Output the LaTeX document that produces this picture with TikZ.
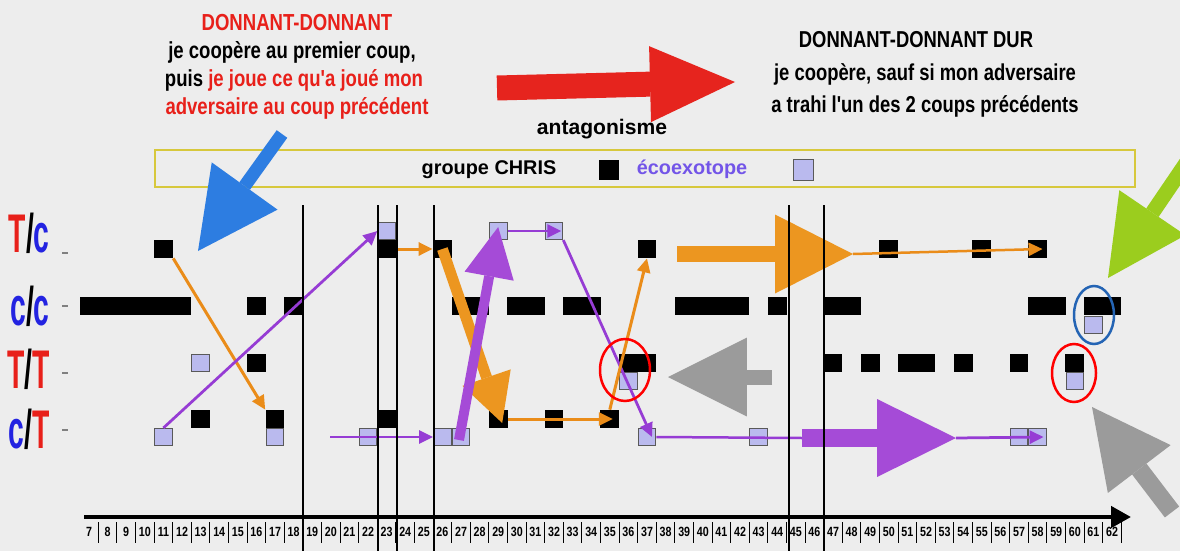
\documentclass[tikz,border=0pt]{standalone}
\usepackage{fontspec}
\setmainfont{Liberation Sans}
\newfontfamily\narrowfont{Liberation Sans}[FakeStretch=0.8]
\newfontfamily\labelfont{Liberation Sans}[FakeStretch=0.52]
\usetikzlibrary{arrows.meta,calc}

\definecolor{bggray}{RGB}{237,237,237}
\definecolor{ddred}{RGB}{232,32,26}
\definecolor{ddblue}{RGB}{35,35,225}
\definecolor{lavsq}{RGB}{186,186,238}
\definecolor{orangeT}{RGB}{234,140,25}
\definecolor{purpleT}{RGB}{150,60,212}
\definecolor{orangeA}{RGB}{236,150,32}
\definecolor{purpleA}{RGB}{165,75,215}
\definecolor{blueA}{RGB}{45,125,225}
\definecolor{redA}{RGB}{230,36,30}
\definecolor{greenA}{RGB}{155,205,30}
\definecolor{grayA}{RGB}{155,155,155}
\definecolor{legyellow}{RGB}{215,200,60}
\definecolor{ecopurple}{RGB}{115,85,232}

\begin{document}
\begin{tikzpicture}[x=0.02cm,y=-0.02cm,
    blk/.style={fill=black,inner sep=0pt,minimum width=0.378cm,minimum height=0.36cm},
    lav/.style={fill=lavsq,draw=black!65,line width=0.5pt,inner sep=0pt,minimum width=0.355cm,minimum height=0.345cm},
    thinor/.style={orangeT,line width=0.06cm,-{Triangle[length=0.28cm,width=0.26cm]}},
    thinpu/.style={purpleT,line width=0.055cm,-{Triangle[length=0.28cm,width=0.26cm]}},
    bigarr/.style n args={3}{line width=#1,-{Triangle[length=#2,width=#3,line width=0pt]}},
    ddtext/.style={inner sep=0pt,font=\narrowfont\bfseries\fontsize{13.2}{15}\selectfont},
    hardtext/.style={inner sep=0pt,font=\narrowfont\bfseries\fontsize{13.1}{15}\selectfont},
    legtext/.style={inner sep=0pt,font=\bfseries\fontsize{11.3}{13}\selectfont},
    rowlab/.style={inner sep=0pt,anchor=base east,font=\labelfont\bfseries\fontsize{31}{33}\selectfont},
    num/.style={inner sep=0pt,font=\narrowfont\bfseries\fontsize{7.6}{8}\selectfont}]
\useasboundingbox (0,0) rectangle (1180,551);
\clip (0,0) rectangle (1180,551);
\fill[bggray] (0,0) rectangle (1180,551);

% legend
\node[draw=legyellow,line width=0.04cm,minimum width=19.6cm,minimum height=0.74cm,inner sep=0pt] (legend) at (645,168.5) {};
\node[legtext,anchor=base] (chris) at (489,174) {groupe CHRIS};
\node[blk,minimum width=0.4cm,minimum height=0.42cm] (key-b) at (609,170) {};
\node[legtext,anchor=base,text=ecopurple] (eco) at (692,174) {écoexotope};
\node[lav,minimum width=0.4cm,minimum height=0.42cm] (key-l) at (803,170) {};
\node[legtext,anchor=base,font=\bfseries\fontsize{12}{13}\selectfont] (antag) at (602,134) {antagonisme};

% row labels
\node[rowlab] (lab-tc) at (50,252) {\textcolor{ddred}{T}/\textcolor{ddblue}{c}};
\node[rowlab] (lab-cc) at (50,325) {\textcolor{ddblue}{c}/\textcolor{ddblue}{c}};
\node[rowlab] (lab-tt) at (50,388) {\textcolor{ddred}{T}/\textcolor{ddred}{T}};
\node[rowlab] (lab-ct) at (50,448) {\textcolor{ddblue}{c}/\textcolor{ddred}{T}};
\foreach \ty in {253,306,373,430}
  \draw[gray,line width=0.7pt] (62,\ty) -- (68,\ty);

% moves
\foreach \m in {11,23,26,37,50,55,58} \node[blk] (tc-b\m) at ({89+(\m-7)*18.6},249) {};
\foreach \m in {23,29,32} \node[lav] (tc-l\m) at ({89+(\m-7)*18.6},231) {};
\foreach \m in {7,8,9,10,11,12,16,18,27,28,30,31,33,34,39,40,41,42,44,47,48,58,59,61,62}
  \node[blk] (cc-b\m) at ({89+(\m-7)*18.6},306) {};
\node[lav] (cc-l61) at ({89+(61-7)*18.6},325) {};
\foreach \m in {16,36,37,47,49,51,52,54,57,60} \node[blk] (tt-b\m) at ({89+(\m-7)*18.6},363) {};
\node[lav] (tt-l13) at ({89+(13-7)*18.6},363) {};
\foreach \m in {36,60} \node[lav] (tt-l\m) at ({89+(\m-7)*18.6},381) {};
\foreach \m in {13,17,23,29,32,35} \node[blk] (ct-b\m) at ({89+(\m-7)*18.6},419) {};
\foreach \m in {11,17,22,26,27,37,43,57,58} \node[lav] (ct-l\m) at ({89+(\m-7)*18.6},437) {};

% thin arrows
\coordinate (p-start) at (330,437);
\draw[thinor] (tc-b11.south east) -- (ct-b17.north west);
\draw[thinpu] (ct-l11.north) -- (tc-l23.west);
\draw[thinor] (tc-b23.east) -- (tc-b26.west);
\draw[thinpu] (p-start) -- (ct-l26.west);
\draw[thinpu] (tc-l29.east) -- ($(tc-l32.east)+(-2,0)$);
\draw[thinpu] (tc-l32.south east) -- ($(ct-l37.center)+(5,0)$);
\draw[thinor] (ct-b29.east) -- ($(ct-b35.center)+(3,0)$);
\draw[thinor] (ct-b35.north) -- (tc-b37.south);

% big arrows
\coordinate (o-tail) at (677,254);
\coordinate (o-tip) at (853,254);
\coordinate (v-tail) at (802,438);
\coordinate (v-tip) at (956,438);
\draw[orangeT,line width=0.05cm,-{Triangle[length=0.28cm,width=0.26cm]}] (o-tip) -- ($(tc-b58.center)+(5,0)$);
\draw[purpleT,line width=0.05cm] (ct-l37.east) -- (v-tail);
\draw[thinpu] (v-tip) -- ($(ct-l58.center)+(6,0)$);
\draw[bigarr={0.32cm}{1.56cm}{1.58cm},orangeA] (o-tail) -- (o-tip);
\draw[bigarr={0.36cm}{1.58cm}{1.56cm},purpleA] (v-tail) -- (v-tip);
\draw[bigarr={0.22cm}{0.96cm}{1.02cm},orangeA] (tc-b26.center) -- ($(ct-b29.center)+(4,4)$);
\draw[bigarr={0.2cm}{1.0cm}{1.0cm},purpleA] ($(ct-l27.center)+(-2,3)$) -- ($(tc-l29.center)+(0,-4)$);

\coordinate (blue-tail) at (282,134);
\coordinate (blue-tip) at (198,251);
\draw[bigarr={0.26cm}{1.6cm}{1.62cm},blueA] (blue-tail) -- (blue-tip);
\coordinate (red-tail) at (497,88);
\coordinate (red-tip) at (735,82);
\draw[bigarr={0.5cm}{1.7cm}{1.52cm},redA] (red-tail) -- (red-tip);
\coordinate (green-tail) at (1195,150);
\coordinate (green-tip) at (1108,278);
\draw[bigarr={0.3cm}{1.58cm}{1.6cm},greenA] (green-tail) -- (green-tip);
\coordinate (grey-tail) at (772,377);
\coordinate (grey-tip) at (668,377);
\draw[bigarr={0.3cm}{1.58cm}{1.58cm},grayA] (grey-tail) -- (grey-tip);
\coordinate (grey2-tail) at (1172,512);
\coordinate (grey2-tip) at (1092,407);
\draw[bigarr={0.36cm}{1.56cm}{1.58cm},grayA] (grey2-tail) -- (grey2-tip);

% separators and axis
\foreach \vx in {303,378,397,434,789,824}
  \draw[line width=0.6pt] (\vx,205) -- (\vx,551);
\draw[line width=0.09cm,-{Triangle[length=0.4cm,width=0.42cm]}] (84,517) -- (1131,517);
\foreach \n in {7,...,62} {
  \node[num] (t\n) at ({89+(\n-7)*18.6},532) {\n};
  \draw[line width=0.5pt] ({98.3+(\n-7)*18.6},522) -- ++(0,21);
}

% circles
\draw[red,line width=0.05cm] (625,370) ellipse [x radius=25,y radius=31];
\draw[blueA!80!black,line width=0.05cm] (1094,315) ellipse [x radius=20,y radius=29];
\draw[red,line width=0.05cm] (1074,373) ellipse [x radius=22,y radius=29];

% strategies
\node[ddtext,anchor=base,text=ddred] (tft-0) at (297,31) {DONNANT-DONNANT};
\node[ddtext,anchor=base] (tft-1) at (292,58) {je coopère au premier coup,};
\node[ddtext,anchor=base] (tft-2) at (294,86) {puis \textcolor{ddred}{je joue ce qu'a joué mon}};
\node[ddtext,anchor=base,text=ddred] (tft-3) at (297,114) {adversaire au coup précédent};
\node[hardtext,anchor=base] (hard-0) at (916,47) {DONNANT-DONNANT DUR};
\node[hardtext,anchor=base] (hard-1) at (925,80) {je coopère, sauf si mon adversaire};
\node[hardtext,anchor=base] (hard-2) at (925,112) {a trahi l'un des 2 coups précédents};
\end{tikzpicture}
\end{document}
